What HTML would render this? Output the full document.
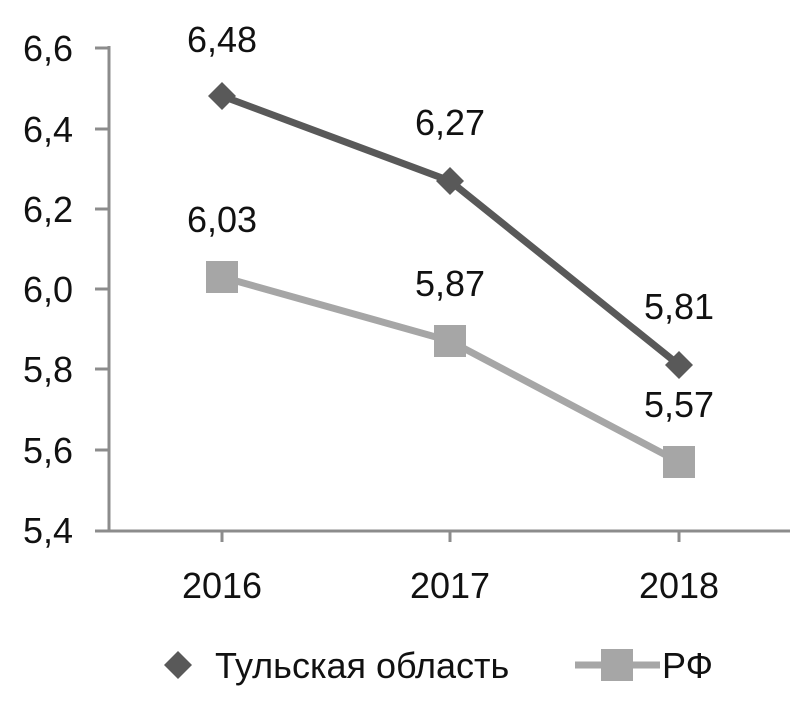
<!DOCTYPE html>
<html><head><meta charset="utf-8"><style>body{margin:0;background:#fff}</style></head><body>
<svg width="803" height="700" xmlns="http://www.w3.org/2000/svg" font-family="Liberation Sans, sans-serif">
<rect width="803" height="700" fill="#fff"/>
<g stroke="#8c8c8c" stroke-width="3">
<line x1="109" y1="46" x2="109" y2="531"/>
<line x1="95" y1="531" x2="790" y2="531"/>
<line x1="95" y1="48" x2="109" y2="48"/><line x1="95" y1="129" x2="109" y2="129"/><line x1="95" y1="209" x2="109" y2="209"/><line x1="95" y1="289" x2="109" y2="289"/><line x1="95" y1="369" x2="109" y2="369"/><line x1="95" y1="450" x2="109" y2="450"/>
<line x1="222" y1="531" x2="222" y2="542"/><line x1="450" y1="531" x2="450" y2="542"/><line x1="679" y1="531" x2="679" y2="542"/>
</g>
<g font-size="36" fill="#111" text-anchor="end">
<text x="73" y="61">6,6</text><text x="73" y="142">6,4</text><text x="73" y="222">6,2</text><text x="73" y="302">6,0</text><text x="73" y="382">5,8</text><text x="73" y="463">5,6</text><text x="73" y="543">5,4</text>
</g>
<g font-size="36" fill="#111" text-anchor="middle">
<text x="222" y="598">2016</text><text x="450" y="598">2017</text><text x="679" y="598">2018</text>
<text x="222" y="52">6,48</text><text x="450" y="135">6,27</text><text x="679" y="319">5,81</text>
<text x="222" y="232">6,03</text><text x="450" y="296">5,87</text><text x="679" y="417">5,57</text>
</g>
<polyline points="222,277 450,341 679,462" fill="none" stroke="#a6a6a6" stroke-width="7"/>
<g fill="#a6a6a6"><rect x="206" y="261" width="32" height="32"/><rect x="434" y="325" width="32" height="32"/><rect x="663" y="446" width="32" height="32"/></g>
<polyline points="222,96 450,181 679,365" fill="none" stroke="#595959" stroke-width="7"/>
<g fill="#595959"><polygon points="222,82 236,96 222,110 208,96"/><polygon points="450,167 464,181 450,195 436,181"/><polygon points="679,351 693,365 679,379 665,365"/></g>
<polygon points="178,651 192,665 178,679 164,665" fill="#595959"/>
<text x="215" y="678" font-size="36" fill="#111">Тульская область</text>
<line x1="575" y1="665" x2="660" y2="665" stroke="#a6a6a6" stroke-width="7"/>
<rect x="601" y="649" width="32" height="32" fill="#a6a6a6"/>
<text x="662" y="678" font-size="36" fill="#111">РФ</text>
</svg>
</body></html>
